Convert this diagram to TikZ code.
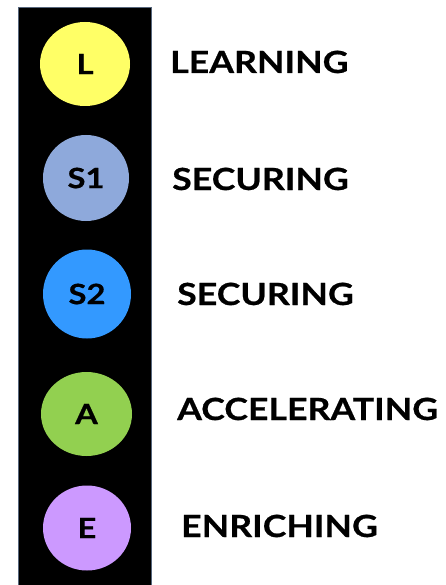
\documentclass[tikz,border=0pt]{standalone}
\usepackage{fontspec}
\setmainfont{Lato}
% wide, heavy face for the stage names and badge letters
\newfontfamily\widebold[FakeStretch=1.17,FakeBold=0.6]{Lato Bold}
\usetikzlibrary{shapes.geometric}
\definecolor{barframe}{HTML}{56667C}
\definecolor{learnfill}{HTML}{FFFF66}
\definecolor{secureonefill}{HTML}{8EA9DB}
\definecolor{securetwofill}{HTML}{3399FF}
\definecolor{accelfill}{HTML}{92D050}
\definecolor{enrichfill}{HTML}{CC99FF}
\tikzset{
  badge/.style={ellipse, inner sep=0pt, font=\fontsize{28}{28}\selectfont\widebold, text=black},
  stagelabel/.style={anchor=base west, inner sep=0pt, font=\fontsize{30.5}{30}\selectfont\widebold, text=black}
}
\begin{document}
\begin{tikzpicture}[x=1pt,y=-1pt]
  \useasboundingbox (0,0) rectangle (446,585);
  % black column behind the badges
  \draw[barframe, line width=1.5pt, fill=black] (18.5,7.5) rectangle (151.5,600);
  % coloured badges
  \node[badge, fill=learnfill, minimum width=90pt, minimum height=84pt] (L) at (85,64) {L};
  \node[badge, fill=secureonefill, minimum width=86pt, minimum height=86pt] (S1) at (86,178) {S1};
  \node[badge, fill=securetwofill, minimum width=88pt, minimum height=89pt] (S2) at (87,294) {S2};
  \node[badge, fill=accelfill, minimum width=91pt, minimum height=84pt] (A) at (86.5,414) {A};
  \node[badge, fill=enrichfill, minimum width=88pt, minimum height=85pt] (E) at (87,528) {E};
  % stage names
  \node[stagelabel] (tL) at (170,73) {LEARNING};
  \node[stagelabel] (tS1) at (172,190) {SECURING};
  \node[stagelabel] (tS2) at (177,305) {SECURING};
  \node[stagelabel] (tA) at (177,420) {ACCELERATING};
  \node[stagelabel] (tE) at (181,537) {ENRICHING};
\end{tikzpicture}
\end{document}
